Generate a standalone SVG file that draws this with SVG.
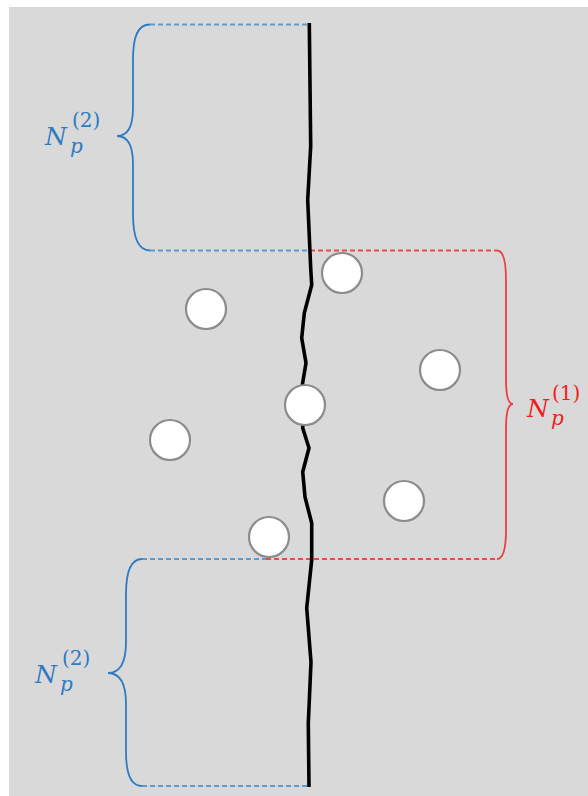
<svg xmlns="http://www.w3.org/2000/svg" width="588" height="796" viewBox="0 0 588 796">
<style>
.bd{stroke:#5B9BD5;stroke-width:1.8;stroke-dasharray:5 3;fill:none}
.rd{stroke:#F04848;stroke-width:1.8;stroke-dasharray:5 3;fill:none}
.bb{stroke:#2E7BC4;stroke-width:1.8;fill:none}
.rb{stroke:#F03C3C;stroke-width:1.8;fill:none}
.p{fill:#fff;stroke:#8C8C8C;stroke-width:2.2}
.lab{font-family:"DejaVu Serif","Liberation Serif",serif}
.it{font-style:italic}
</style>
<rect x="0" y="0" width="588" height="796" fill="#fff"/>
<rect x="9" y="7" width="579" height="789" fill="#D9D9D9"/>
<g id="connectors">
<path class="bd" d="M150,24.5 H309"/>
<path class="bd" d="M150,250.5 H309"/>
<path class="rd" d="M310,250.5 H497"/>
<path class="bd" d="M142,559 H266"/>
<path class="rd" d="M266,559 H497"/>
<path class="bd" d="M142,786 H309"/>
<path class="bb" d="M150,24.5 C138,24.5 133,36 133,60 L133,108 C133,126 128,136 117,136 C128,136 133,146 133,164 L133,214 C133,238 138,250.5 150,250.5"/>
<path class="bb" d="M142,559 C131,559 126,572 126,594 L126,642 C126,662 120,673 108,673 C120,673 126,684 126,704 L126,752 C126,774 131,786 142,786"/>
<path class="rb" d="M497,250.5 C503,250.5 506,262 506,280 L506,380 C506,396 508,404 513,404 C508,404 506,412 506,428 L506,530 C506,548 503,559 497,559"/>
<polyline fill="none" stroke="#000" stroke-width="3.6" stroke-linejoin="miter" points="309.3,23 310.7,146 307.7,200 310.7,268 311.7,285 304.3,313 301.7,338 306,363 302.3,385 305,405 302.7,428 309,448 302.7,472 305,497 311.7,523 311.7,560 306.7,608 311,662 308.3,723 309,787"/>
</g>
<g id="particles">
<circle class="p" cx="206" cy="309" r="20"/>
<circle class="p" cx="342" cy="273" r="20"/>
<circle class="p" cx="440" cy="370" r="20"/>
<circle class="p" cx="305" cy="405" r="20"/>
<circle class="p" cx="170" cy="440" r="20"/>
<circle class="p" cx="404" cy="501" r="20"/>
<circle class="p" cx="269" cy="537" r="20"/>
</g>
<g id="label-top" fill="#2E7BC4">
<text class="lab"><tspan class="it" x="45" y="145" font-size="25">N</tspan><tspan class="it" x="70" y="153" font-size="20">p</tspan><tspan x="72" y="127" font-size="20">(2)</tspan></text>
</g>
<g id="label-bottom" fill="#2E7BC4">
<text class="lab"><tspan class="it" x="35" y="683" font-size="25">N</tspan><tspan class="it" x="60" y="691" font-size="20">p</tspan><tspan x="62" y="665" font-size="20">(2)</tspan></text>
</g>
<g id="label-right" fill="#F01E1E">
<text class="lab"><tspan class="it" x="527" y="417" font-size="25">N</tspan><tspan class="it" x="551" y="425" font-size="20">p</tspan><tspan x="552" y="400" font-size="20">(1)</tspan></text>
</g>
</svg>
